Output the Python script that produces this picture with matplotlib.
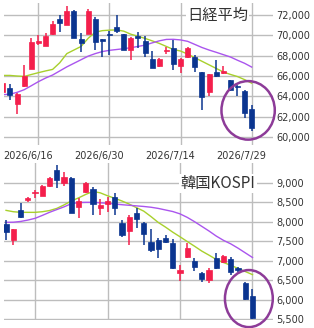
import numpy as np
import matplotlib
matplotlib.use('Agg')
import matplotlib.pyplot as plt
from matplotlib.patches import Ellipse

# Nikkei 225 daily candles (Japan trading days)
nikkei_dates = ['2026/6/9', '2026/6/10', '2026/6/11', '2026/6/12', '2026/6/15', '2026/6/16',
                '2026/6/17', '2026/6/18', '2026/6/19', '2026/6/22', '2026/6/23', '2026/6/24',
                '2026/6/25', '2026/6/26', '2026/6/29', '2026/6/30', '2026/7/1', '2026/7/2',
                '2026/7/3', '2026/7/6', '2026/7/7', '2026/7/8', '2026/7/9', '2026/7/10',
                '2026/7/13', '2026/7/14', '2026/7/15', '2026/7/16', '2026/7/17', '2026/7/21',
                '2026/7/22', '2026/7/23', '2026/7/24', '2026/7/27', '2026/7/28', '2026/7/29']
nikkei_open = [64480, 64840, 63260, 65070, 66720, 69200, 68930, 70090, 71570, 71010, 72400, 69620,
               70150, 71570, 69620, 70090, 70780, 70090, 68600, 69950, 69460, 67710, 66950, 68450,
               68700, 66950, 67870, 67870, 66390, 64410, 66390, 66330, 65570, 65070, 64580, 62760]
nikkei_high = [65350, 65240, 64350, 67050, 69700, 70000, 70200, 71400, 72000, 72820, 72450, 70190,
               72560, 71830, 69650, 70400, 72000, 70100, 69800, 70290, 69950, 68470, 67750, 68860,
               69500, 67750, 68860, 68040, 66400, 66200, 67610, 66950, 65660, 65100, 64650, 63190]
nikkei_low = [64380, 63650, 62270, 64970, 66650, 69000, 68900, 70050, 70350, 71000, 69700, 68370,
              70100, 68600, 67870, 68100, 70200, 68550, 67550, 68760, 67870, 66800, 66900, 68140,
              66620, 66300, 67800, 66390, 62660, 64080, 65900, 66230, 64510, 64080, 61870, 60620]
nikkei_close = [65270, 64150, 64250, 65960, 69300, 69400, 69950, 71080, 71180, 72330, 69750, 69200,
                72400, 69360, 69430, 70020, 70450, 68600, 69750, 69690, 68270, 66820, 67710, 68600,
                67220, 67710, 68700, 66880, 63980, 66160, 65960, 66460, 64640, 64970, 62330, 60880]
nikkei_ma_short = [66060, 66060, 66000, 65960, 66150, 66330, 66500, 66650, 67300, 68200, 68550, 68900,
                   69700, 70300, 70450, 70500, 70520, 70400, 70100, 69900, 69690, 69450, 69200, 68900,
                   68600, 68450, 68150, 67800, 67450, 67100, 66750, 66400, 66160, 65950, 65650, 65300]
nikkei_ma_long = [64180, 64220, 64400, 64660, 65050, 65450, 65800, 66100, 66500, 66900, 67250, 67600,
                  67950, 68200, 68400, 68520, 68600, 68680, 68780, 68900, 69030, 69250, 69450, 69590,
                  69600, 69540, 69400, 69100, 68800, 68550, 68330, 68100, 67870, 67550, 67250, 66880]

# KOSPI daily candles (Korea trading days)
kospi_dates = ['2026/6/11', '2026/6/12', '2026/6/15', '2026/6/16', '2026/6/17', '2026/6/18',
               '2026/6/19', '2026/6/22', '2026/6/23', '2026/6/24', '2026/6/25', '2026/6/26',
               '2026/6/29', '2026/6/30', '2026/7/1', '2026/7/2', '2026/7/3', '2026/7/6',
               '2026/7/7', '2026/7/8', '2026/7/9', '2026/7/10', '2026/7/13', '2026/7/14',
               '2026/7/15', '2026/7/16', '2026/7/17', '2026/7/20', '2026/7/21', '2026/7/22',
               '2026/7/23', '2026/7/24', '2026/7/27', '2026/7/28', '2026/7/29']
kospi_open = [7930, 7530, 8300, 8555, 8730, 8660, 8923, 9326, 8985, 9128, 8383, 8753,
              8830, 8357, 8445, 8640, 7972, 7760, 8213, 7957, 7484, 7527, 7587, 7440,
              6672, 7098, 6988, 6672, 6499, 7073, 6970, 7030, 6815, 6430, 6096]
kospi_high = [8040, 7820, 8470, 8640, 8810, 8930, 9155, 9455, 9283, 9140, 8615, 9026,
              8897, 8573, 8640, 8727, 8041, 8170, 8357, 8000, 7802, 7587, 7650, 7550,
              6885, 7442, 7057, 6697, 6800, 7186, 7150, 7100, 6840, 6440, 6280]
kospi_low = [7530, 7400, 8085, 8500, 8600, 8650, 8900, 8870, 8923, 8220, 8100, 8740,
             8170, 8170, 8255, 8170, 7612, 7400, 7828, 7400, 7211, 7073, 7440, 6790,
             6474, 7060, 6731, 6455, 6414, 6782, 6945, 6630, 6713, 6000, 5510]
kospi_close = [7740, 7800, 8125, 8600, 8770, 8915, 9113, 9069, 9139, 8230, 8530, 8985,
               8445, 8427, 8530, 8342, 7656, 8126, 8067, 7682, 7270, 7296, 7468, 6800,
               6756, 7330, 6841, 6517, 6756, 6800, 7124, 6700, 6756, 6011, 5520]
kospi_ma_short = [8290, 8255, 8240, 8239, 8239, 8255, 8285, 8340, 8430, 8530, 8610, 8700,
                  8775, 8740, 8665, 8600, 8530, 8450, 8360, 8270, 8130, 7980, 7860, 7730,
                  7612, 7490, 7370, 7245, 7140, 7030, 6950, 6880, 6800, 6720, 6640]
kospi_ma_long = [7982, 7985, 8005, 8040, 8085, 8160, 8240, 8310, 8380, 8460, 8490, 8496,
                 8496, 8485, 8470, 8453, 8435, 8420, 8405, 8390, 8370, 8340, 8300, 8260,
                 8200, 8110, 8000, 7880, 7760, 7630, 7520, 7430, 7320, 7200, 7080]

nikkei_ticks = ['2026/6/16', '2026/6/30', '2026/7/14', '2026/7/29']
kospi_grid = ['2026/6/17', '2026/7/1', '2026/7/15', '2026/7/29']

UP = '#f41f4c'
DOWN = '#0b3590'
GRID = '#bdbdbd'
TXT = '#333333'
CIRCLE = '#8d3b98'
JP = ['Noto Sans CJK JP', 'DejaVu Sans']


def draw_panel(ax, o, h, l, c, ma_s, ma_l, grid_idx, yticks, ylim, xlim):
    x = np.arange(len(o))
    ax.plot(x, ma_s, color='#a8d02c', lw=1.0, zorder=2)
    ax.plot(x, ma_l, color='#aa55ee', lw=1.0, zorder=2)
    for xi, oi, hi, li, ci in zip(x, o, h, l, c):
        col = UP if ci >= oi else DOWN
        ax.vlines(xi, li, hi, color=col, lw=1.1, zorder=3)
        ax.bar(xi, abs(ci - oi), width=0.7, bottom=min(oi, ci), color=col,
               edgecolor=col, lw=0.5, zorder=4)
    ax.set_xlim(*xlim)
    ax.set_ylim(*ylim)
    ax.set_yticks(yticks)
    ax.set_yticklabels([f'{v:,}' for v in yticks])
    ax.yaxis.tick_right()
    ax.tick_params(axis='y', length=0, pad=2.5, labelsize=7, labelcolor=TXT)
    ax.set_xticks(grid_idx)
    ax.set_xticklabels([])
    ax.tick_params(axis='x', length=0)
    ax.grid(True, color=GRID, lw=1.0, zorder=0)
    ax.set_axisbelow(True)
    for s in ax.spines.values():
        s.set_visible(False)
    # circle around the last two sessions
    hi2 = max(h[-2:])
    lo2 = min(l[-2:])
    return x[-2:].mean(), (hi2 + lo2) / 2


fig = plt.figure(figsize=(3.14, 3.28), dpi=100)

ax1 = fig.add_axes([4 / 314, 183 / 328, 269 / 314, 142 / 328])
idx1 = [nikkei_dates.index(d) for d in nikkei_ticks]
cx, cy = draw_panel(ax1, nikkei_open, nikkei_high, nikkei_low, nikkei_close,
                    nikkei_ma_short, nikkei_ma_long, idx1,
                    list(range(60000, 72001, 2000)), (59240, 73160), (0.16, 38.0))
ax1.add_patch(Ellipse((cx, cy), 7.5, 5740, fill=False, ec=CIRCLE, lw=1.8,
                      clip_on=False, zorder=6))
for i, lab in zip(idx1, nikkei_ticks):
    ax1.text(i - 1.5, -0.078, lab, transform=ax1.get_xaxis_transform(),
             ha='center', va='center', fontsize=7, color=TXT)
ax1.text(0.794, 0.915, '日経平均', transform=ax1.transAxes, ha='center', va='center',
         fontsize=11, color=TXT, family=JP, zorder=7,
         bbox=dict(facecolor='white', edgecolor='none', pad=1))

ax2 = fig.add_axes([4 / 314, 8 / 328, 269 / 314, 157 / 328])
idx2 = [kospi_dates.index(d) for d in kospi_grid]
cx, cy = draw_panel(ax2, kospi_open, kospi_high, kospi_low, kospi_close,
                    kospi_ma_short, kospi_ma_long, idx2,
                    list(range(5500, 9001, 500)), (5475, 9506), (-0.28, 36.83))
ax2.add_patch(Ellipse((cx, cy + 50), 6.6, 1465, fill=False, ec=CIRCLE, lw=1.8,
                      clip_on=False, zorder=6))
ax2.text(0.796, 0.869, '韓国KOSPI', transform=ax2.transAxes, ha='center', va='center',
         fontsize=11, color=TXT, family=JP, zorder=7,
         bbox=dict(facecolor='white', edgecolor='none', pad=1))

fig.savefig('out.png', dpi=100)
